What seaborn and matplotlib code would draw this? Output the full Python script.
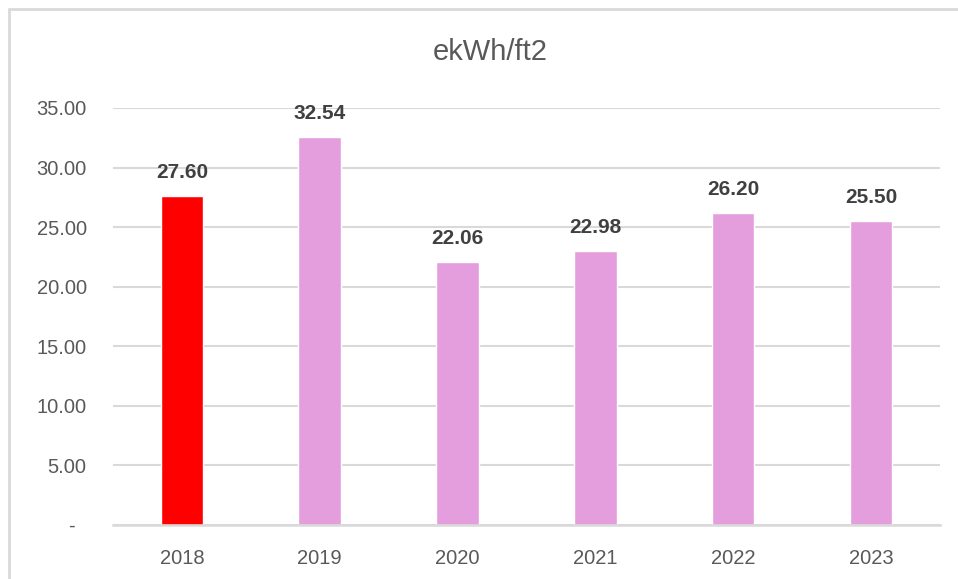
import pandas as pd
import seaborn as sns
import matplotlib.pyplot as plt
from matplotlib.lines import Line2D

# values
years = ['2018', '2019', '2020', '2021', '2022', '2023']
ekwh_ft2 = [27.60, 32.54, 22.06, 22.98, 26.20, 25.50]
bar_colors = ['#FF0000', '#E49EDD', '#E49EDD', '#E49EDD', '#E49EDD', '#E49EDD']
y_ticks = [0, 5, 10, 15, 20, 25, 30, 35]
y_tick_labels = ['-  ', '5.00', '10.00', '15.00', '20.00', '25.00', '30.00', '35.00']

df = pd.DataFrame({'year': years, 'value': ekwh_ft2})

sns.set_style('white')
plt.rcParams['font.family'] = ['Liberation Sans', 'DejaVu Sans']

fig = plt.figure(figsize=(9.58, 5.79), dpi=100)
ax = fig.add_axes([0.118, 0.0933, 0.863, 0.7202])

sns.barplot(data=df, x='year', y='value', hue='year',
            palette=dict(zip(years, bar_colors)), width=0.31,
            legend=False, ax=ax, saturation=1)

ax.set_ylim(0, 35)
ax.set_yticks(y_ticks)
ax.set_yticklabels(y_tick_labels)
ax.yaxis.grid(True, color='#D9D9D9', linewidth=1.5)
ax.set_axisbelow(True)
for s in ['top', 'right', 'left']:
    ax.spines[s].set_visible(False)
ax.spines['bottom'].set_color('#D9D9D9')
ax.spines['bottom'].set_linewidth(1.8)
ax.tick_params(axis='y', length=0, pad=19, labelsize=14.5, labelcolor='#595959')
ax.tick_params(axis='x', length=0, pad=17, labelsize=14.5, labelcolor='#595959')
ax.set_xlabel('')
ax.set_ylabel('')

# value labels above bars
for i, v in enumerate(ekwh_ft2):
    ax.annotate(f'{v:.2f}', (i, v), xytext=(0, 10), textcoords='offset points',
                ha='center', va='bottom', fontsize=15, fontweight='bold',
                color='#404040')

fig.text(0.512, 0.911, 'ekWh/ft2', ha='center', va='center',
         fontsize=21, color='#595959')

# chart border: only top and left edges are visible in the crop
fig.add_artist(Line2D([9 / 958, 1], [1 - 9 / 579, 1 - 9 / 579],
                      transform=fig.transFigure, color='#D9D9D9', linewidth=2))
fig.add_artist(Line2D([9 / 958, 9 / 958], [0, 1 - 9 / 579],
                      transform=fig.transFigure, color='#D9D9D9', linewidth=2))

fig.savefig('out.png', dpi=100)
